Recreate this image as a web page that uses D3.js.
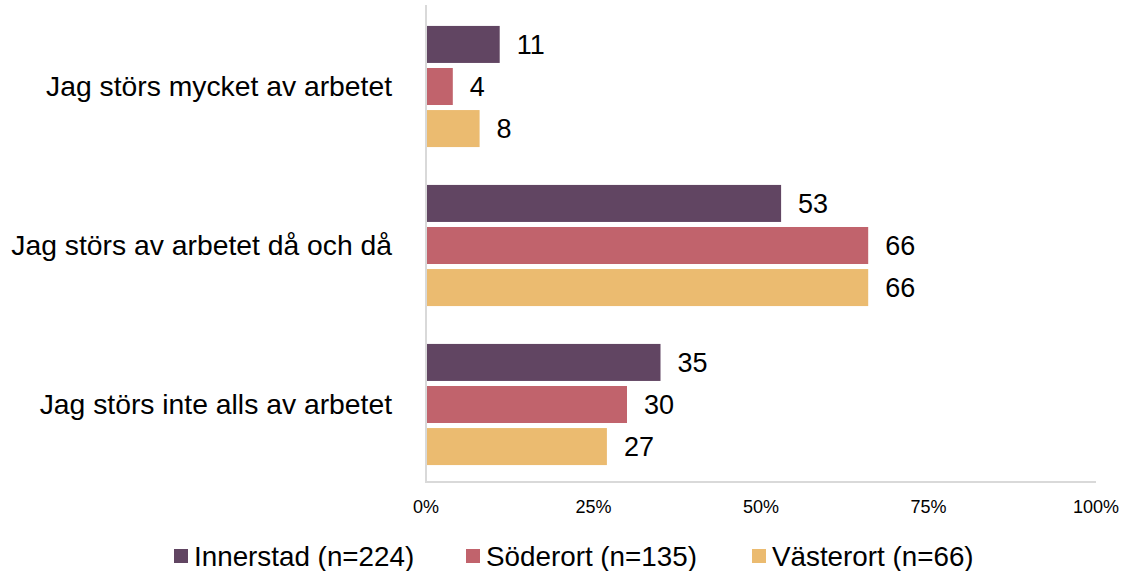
<!DOCTYPE html>
<html>
<head>
<meta charset="utf-8">
<script src="https://cdn.jsdelivr.net/npm/d3@7"></script>
<style>
  body { margin: 0; background: #fff; }
  text { font-family: "Liberation Sans", Arial, sans-serif; fill: #000; }
</style>
</head>
<body>
<div id="chart"></div>
<script>
var width = 1126;
var height = 571;

var categories = ["Jag störs mycket av arbetet", "Jag störs av arbetet då och då", "Jag störs inte alls av arbetet"];
var seriesNames = ["Innerstad (n=224)", "Söderort (n=135)", "Västerort (n=66)"];
var innerstad = [11, 53, 35];
var soderort = [4, 66, 30];
var vasterort = [8, 66, 27];
var ticks = [0, 25, 50, 75, 100];
var colors = ["#614562", "#c1636c", "#ebbb70"];

var seriesValues = [innerstad, soderort, vasterort];

var svg = d3.select("#chart")
    .append("svg")
    .attr("width", width)
    .attr("height", height);

var x = d3.scaleLinear()
    .domain([0, 100])
    .range([426, 1096]);

var y0 = d3.scaleBand()
    .domain(categories)
    .range([7, 484]);

var y1 = d3.scaleBand()
    .domain(seriesNames)
    .range([0, y0.bandwidth()])
    .paddingInner(0.12)
    .paddingOuter(0.45);

// rows of data: one per category and series
var rows = [];
categories.forEach(function(c, i) {
    seriesNames.forEach(function(s, j) {
        rows.push({cat: c, series: s, value: seriesValues[j][i], color: colors[j]});
    });
});

// axis lines
svg.append("line")
    .attr("x1", x(0)).attr("x2", x(0))
    .attr("y1", 5).attr("y2", 483)
    .attr("stroke", "#d9d9d9").attr("stroke-width", 2);
svg.append("line")
    .attr("x1", x(0) - 1).attr("x2", x(100))
    .attr("y1", 482).attr("y2", 482)
    .attr("stroke", "#d9d9d9").attr("stroke-width", 2);

svg.append("g")
    .selectAll("rect")
    .data(rows)
    .enter()
    .append("rect")
        .attr("x", x(0) + 1)
        .attr("y", d => y0(d.cat) + y1(d.series))
        .attr("width", d => x(d.value) - x(0) - 1)
        .attr("height", y1.bandwidth())
        .attr("fill", d => d.color);

// value labels
svg.append("g")
    .selectAll("text")
    .data(rows)
    .enter()
    .append("text")
        .attr("x", d => x(d.value) + 17)
        .attr("y", d => y0(d.cat) + y1(d.series) + y1.bandwidth() / 2)
        .attr("dy", "0.36em")
        .style("font-size", "27px")
        .text(d => d.value);

// category labels
svg.append("g")
    .selectAll("text")
    .data(categories)
    .enter()
    .append("text")
        .attr("x", 392)
        .attr("y", d => y0(d) + y0.bandwidth() / 2 - 1)
        .attr("dy", "0.36em")
        .attr("text-anchor", "end")
        .style("font-size", "28.3px")
        .text(d => d);

// x tick labels
svg.append("g")
    .selectAll("text")
    .data(ticks)
    .enter()
    .append("text")
        .attr("x", d => x(d))
        .attr("y", 507)
        .attr("dy", "0.36em")
        .attr("text-anchor", "middle")
        .style("font-size", "18px")
        .text(d => d + "%");

// legend
var legendX = [174, 466, 752];
var legend = svg.append("g")
    .selectAll("g")
    .data(seriesNames)
    .enter()
    .append("g")
        .attr("transform", (d, i) => "translate(" + legendX[i] + ",556)");
legend.append("rect")
    .attr("x", 0).attr("y", -7)
    .attr("width", 14).attr("height", 14)
    .attr("fill", (d, i) => colors[i]);
legend.append("text")
    .attr("x", 20)
    .attr("y", 0)
    .attr("dy", "0.36em")
    .style("font-size", "27.8px")
    .text(d => d);
</script>
</body>
</html>
